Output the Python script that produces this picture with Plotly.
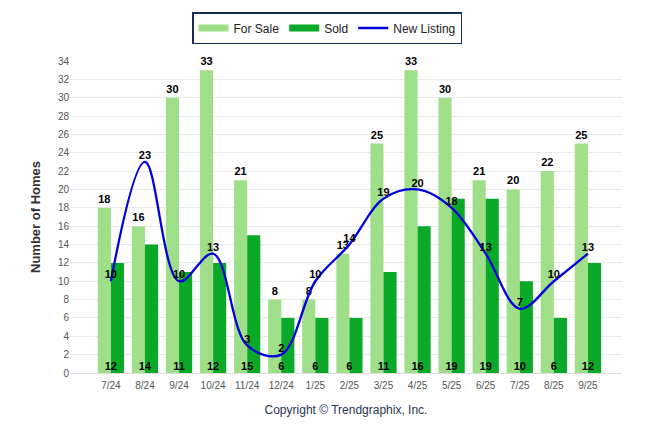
import plotly.graph_objects as go

months = ["7/24", "8/24", "9/24", "10/24", "11/24", "12/24", "1/25", "2/25",
          "3/25", "4/25", "5/25", "6/25", "7/25", "8/25", "9/25"]
for_sale = [18, 16, 30, 33, 21, 8, 8, 13, 25, 33, 30, 21, 20, 22, 25]
sold = [12, 14, 11, 12, 15, 6, 6, 6, 11, 16, 19, 19, 10, 6, 12]
new_listing = [10, 23, 10, 13, 3, 2, 10, 14, 19, 20, 18, 13, 7, 10, 13]

FONT = "Liberation Sans, Arial, sans-serif"
C_SALE = "#a0df8a"
C_SOLD = "#0aaa28"
C_NEW = "#0000dd"
x = list(range(len(months)))

fig = go.Figure()
fig.add_trace(go.Bar(
    x=x, y=for_sale, name="For Sale", marker_color=C_SALE, marker_line_width=0,
    text=[str(v) for v in for_sale], textposition="outside", constraintext="none",
    textfont=dict(family=FONT, size=11, color="#000000", weight="bold"),
    cliponaxis=False, hoverinfo="skip", showlegend=False))
fig.add_trace(go.Bar(
    x=x, y=sold, name="Sold", marker_color=C_SOLD, marker_line_width=0,
    hoverinfo="skip", showlegend=False))
fig.add_trace(go.Scatter(
    x=x, y=new_listing, name="New Listing", mode="lines+text",
    line=dict(color=C_NEW, width=2.3, shape="spline", smoothing=1.0),
    text=[str(v) for v in new_listing], textposition="top center",
    textfont=dict(family=FONT, size=11, color="#000000", weight="bold"),
    cliponaxis=False, hoverinfo="skip", showlegend=False))
fig.add_trace(go.Scatter(
    x=x, y=[0] * len(sold), mode="text", showlegend=False,
    text=[str(v) for v in sold], textposition="top center",
    textfont=dict(family=FONT, size=11, color="#000000", weight="bold"),
    cliponaxis=False, hoverinfo="skip"))

# legend-only entries (rectangle-like swatches)
fig.add_trace(go.Scatter(x=[None], y=[None], mode="lines", name="For Sale",
                         line=dict(color=C_SALE, width=7)))
fig.add_trace(go.Scatter(x=[None], y=[None], mode="lines", name="Sold",
                         line=dict(color=C_SOLD, width=7)))
fig.add_trace(go.Scatter(x=[None], y=[None], mode="lines", name="New Listing",
                         line=dict(color=C_NEW, width=2.3)))

fig.update_layout(
    width=638, height=426,
    margin=dict(l=62, r=24, t=53, b=61),
    paper_bgcolor="white", plot_bgcolor="white",
    barmode="group", bargap=0.23, bargroupgap=0,
    font=dict(family=FONT, size=11, color="#333333"),
    showlegend=True,
    legend=dict(orientation="h", xref="container", yref="container",
                x=0.5, xanchor="center", y=1 - 4 / 426, yanchor="top",
                bordercolor="#1a2a5a", borderwidth=1.5, bgcolor="white",
                font=dict(family=FONT, size=12, color="#222222"),
                itemwidth=30, traceorder="normal", tracegroupgap=0),
    xaxis=dict(range=[-1.2, 15], tickmode="array", tickvals=x, ticktext=months,
               showgrid=False, zeroline=False, showline=True, linecolor="#dddddd",
               ticklabelstandoff=3,
               tickfont=dict(family=FONT, size=10, color="#555555"),
               title=dict(text="Copyright © Trendgraphix, Inc.", standoff=15,
                          font=dict(family=FONT, size=12, color="#2a3550"))),
    yaxis=dict(range=[0, 34], dtick=2, showgrid=True, gridcolor="#e9e9e9",
               zeroline=False, showline=False, ticks="",
               tickfont=dict(family=FONT, size=10, color="#555555"),
               title=dict(text="<b>Number of Homes</b>", standoff=14,
                          font=dict(family=FONT, size=13, color="#333333"))),
)

fig.write_html("out.html")
